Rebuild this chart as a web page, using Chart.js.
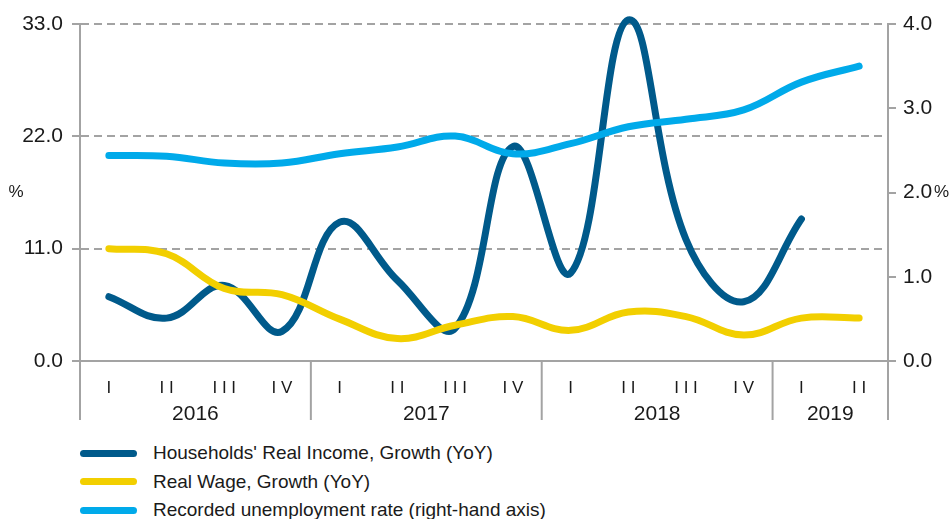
<!DOCTYPE html>
<html>
<head>
<meta charset="utf-8">
<script src="https://cdn.jsdelivr.net/npm/chart.js@4.4.1/dist/chart.umd.min.js"></script>
<style>
  html, body { margin: 0; padding: 0; background: #fff; }
  body { width: 951px; height: 519px; position: relative; overflow: hidden; font-family: "Liberation Sans", Arial, sans-serif; color: #1a1a1a; }
  #wrap { position: absolute; left: 0; top: 0; width: 951px; height: 430px; }
  #legend { position: absolute; left: 80px; top: 439px; }
  .row { height: 28.5px; display: flex; align-items: center; font-size: 19px; white-space: nowrap; }
  .swatch { width: 57px; height: 7px; border-radius: 4px; margin-right: 16px; }
</style>
</head>
<body>
<div id="wrap"><canvas id="chart"></canvas></div>
<div id="legend"></div>
<script>
const quarters = ["I", "I I", "I I I", "I V", "I", "I I", "I I I", "I V", "I", "I I", "I I I", "I V", "I", "I I"];
const years = ["2016", "2016", "2016", "2016", "2017", "2017", "2017", "2017", "2018", "2018", "2018", "2018", "2019", "2019"];

const incomeGrowth = [6.3, 4.2, 7.4, 2.9, 13.6, 7.9, 3.2, 21.0, 8.6, 33.4, 11.9, 5.8, 13.9, null];
const wageGrowth = [11.0, 10.5, 7.1, 6.5, 4.1, 2.2, 3.5, 4.35, 3.0, 4.8, 4.35, 2.55, 4.2, 4.2];
const unemployment = [2.44, 2.43, 2.35, 2.35, 2.46, 2.54, 2.67, 2.46, 2.58, 2.78, 2.87, 2.98, 3.31, 3.5];

const leftTicks = [0, 11, 22, 33];
const rightTicks = [0, 1, 2, 3, 4];

const seriesNames = ["Households' Real Income, Growth (YoY)", "Real Wage, Growth (YoY)", "Recorded unemployment rate (right-hand axis)"];
const seriesColors = ["#005a8b", "#f2cf00", "#00aaea"];

const AXIS = "#a3a3a3";
const TEXT = "#1a1a1a";
const FONT = "'Liberation Sans', Arial, sans-serif";

// year groups + separators under the quarter labels, and the "%" unit marks
const extrasPlugin = {
  id: "extras",
  afterDraw(chart) {
    const { ctx, chartArea } = chart;
    const x = chart.scales.x;
    const bottom = chartArea.bottom;

    const groups = [];
    years.forEach((y, i) => {
      const last = groups[groups.length - 1];
      if (last && last.year === y) last.end = i;
      else groups.push({ year: y, start: i, end: i });
    });

    ctx.save();
    ctx.strokeStyle = AXIS;
    ctx.lineWidth = 2;
    const edges = [chartArea.left];
    for (let g = 0; g < groups.length - 1; g++) {
      edges.push((x.getPixelForValue(groups[g].end) + x.getPixelForValue(groups[g + 1].start)) / 2);
    }
    edges.push(chartArea.right);
    edges.forEach(px => {
      ctx.beginPath();
      ctx.moveTo(px, bottom);
      ctx.lineTo(px, bottom + 59);
      ctx.stroke();
    });

    ctx.fillStyle = TEXT;
    ctx.font = "21px " + FONT;
    ctx.textAlign = "center";
    ctx.textBaseline = "middle";
    groups.forEach((g, k) => {
      ctx.fillText(g.year, (edges[k] + edges[k + 1]) / 2, bottom + 53);
    });

    ctx.font = "17px " + FONT;
    ctx.fillText("%", chartArea.left - 64, (chartArea.top + chartArea.bottom) / 2);
    ctx.textAlign = "left";
    ctx.fillText("%", chartArea.right + 46, chart.scales.y1.getPixelForValue(2));
    ctx.restore();
  }
};

function lineSet(label, data, color, axis, order) {
  return {
    label,
    data,
    yAxisID: axis,
    borderColor: color,
    backgroundColor: color,
    borderWidth: 7,
    borderCapStyle: "round",
    borderJoinStyle: "round",
    pointRadius: 0,
    tension: 0.4,
    clip: false,
    order
  };
}

new Chart(document.getElementById("chart"), {
  type: "line",
  data: {
    labels: quarters,
    datasets: [
      lineSet(seriesNames[0], incomeGrowth, seriesColors[0], "y", 3),
      lineSet(seriesNames[1], wageGrowth, seriesColors[1], "y", 2),
      lineSet(seriesNames[2], unemployment, seriesColors[2], "y1", 1)
    ]
  },
  options: {
    responsive: true,
    maintainAspectRatio: false,
    animation: false,
    layout: { padding: { top: 24, left: 0, right: 0, bottom: 0 } },
    plugins: { legend: { display: false }, tooltip: { enabled: false } },
    scales: {
      x: {
        type: "category",
        offset: true,
        grid: { display: false, drawTicks: false },
        border: { display: true, color: AXIS, width: 2 },
        ticks: { autoSkip: false, maxRotation: 0, padding: 17, color: TEXT, font: { family: FONT, size: 17 } },
        afterFit(scale) { scale.height = 69; }
      },
      y: {
        position: "left",
        min: 0,
        max: 33,
        afterBuildTicks(scale) { scale.ticks = leftTicks.map(v => ({ value: v })); },
        grid: {
          color: c => (c.tick && c.tick.value === 0 ? "rgba(0,0,0,0)" : AXIS),
          lineWidth: 2,
          tickLength: 8,
          tickColor: AXIS,
          tickWidth: 2,
          tickBorderDash: []
        },
        border: { display: true, color: AXIS, width: 2, dash: [8, 5] },
        ticks: { padding: 9, color: TEXT, font: { family: FONT, size: 21 }, callback: v => v.toFixed(1) },
        afterFit(scale) { scale.width = 80; }
      },
      y1: {
        position: "right",
        min: 0,
        max: 4,
        afterBuildTicks(scale) { scale.ticks = rightTicks.map(v => ({ value: v })); },
        grid: { drawOnChartArea: false, tickLength: 8, tickColor: AXIS, tickWidth: 2, color: AXIS, lineWidth: 2 },
        border: { display: true, color: AXIS, width: 2 },
        ticks: { padding: 7, color: TEXT, font: { family: FONT, size: 21 }, callback: v => v.toFixed(1) },
        afterFit(scale) { scale.width = 63; }
      }
    }
  },
  plugins: [extrasPlugin]
});

const legend = document.getElementById("legend");
seriesNames.forEach((name, i) => {
  const row = document.createElement("div");
  row.className = "row";
  const sw = document.createElement("span");
  sw.className = "swatch";
  sw.style.background = seriesColors[i];
  const txt = document.createElement("span");
  txt.textContent = name;
  row.appendChild(sw);
  row.appendChild(txt);
  legend.appendChild(row);
});
</script>
</body>
</html>
